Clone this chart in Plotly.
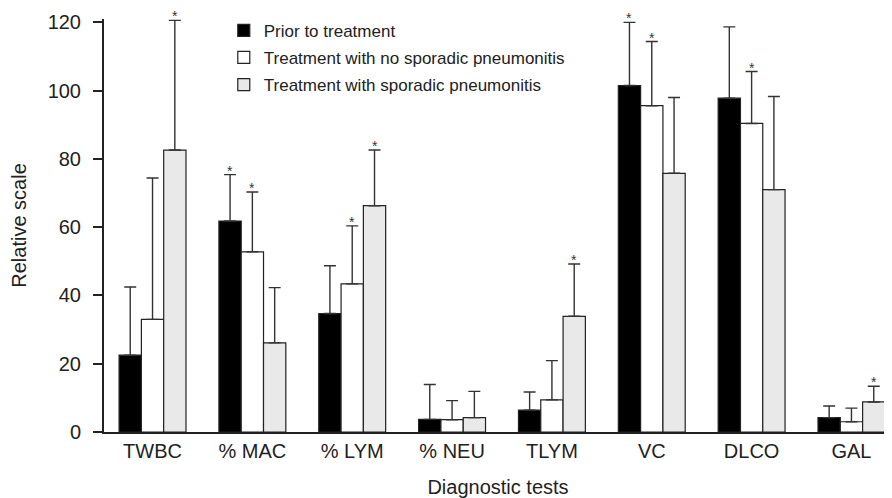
import plotly.graph_objects as go

categories = ["TWBC", "% MAC", "% LYM", "% NEU", "TLYM", "VC", "DLCO", "GAL"]
series_names = ["Prior to treatment",
                "Treatment with no sporadic pneumonitis",
                "Treatment with sporadic pneumonitis"]

prior_vals = [22.5, 61.8, 34.7, 3.7, 6.4, 101.5, 97.8, 4.2]
prior_err = [20.0, 13.6, 14.0, 10.2, 5.3, 18.5, 20.9, 3.4]
prior_sig = [False, True, False, False, False, True, False, False]

nosp_vals = [33.0, 52.8, 43.4, 3.6, 9.4, 95.6, 90.4, 3.0]
nosp_err = [41.4, 17.5, 17.0, 5.6, 11.5, 18.8, 15.2, 4.0]
nosp_sig = [False, True, True, False, False, True, True, False]

sp_vals = [82.6, 26.1, 66.3, 4.2, 33.9, 75.8, 71.0, 8.8]
sp_err = [38.0, 16.2, 16.3, 7.7, 15.3, 22.2, 27.3, 4.6]
sp_sig = [True, False, True, False, True, False, False, True]

fills = ["#000000", "#ffffff", "#e9e9e9"]
FONT = "Liberation Sans, Arial, sans-serif"
TXT = "#222222"

bargap = 0.33
fig = go.Figure()
all_vals = [prior_vals, nosp_vals, sp_vals]
all_err = [prior_err, nosp_err, sp_err]
all_sig = [prior_sig, nosp_sig, sp_sig]
xs = list(range(len(categories)))
for j in range(3):
    fig.add_trace(go.Bar(
        x=xs, y=all_vals[j], name=series_names[j], legendgroup=f"g{j}",
        marker=dict(color=fills[j], line=dict(color="#222222", width=1.2)),
        error_y=dict(type="data", array=all_err[j], arrayminus=[0]*len(xs),
                     symmetric=False, color="#333333", thickness=1.4, width=6),
    ))

w = (1 - bargap) / 3
for j in range(3):
    for i in xs:
        if all_sig[j][i]:
            fig.add_annotation(x=i + (j - 1) * w, y=all_vals[j][i] + all_err[j][i],
                               text="*", showarrow=False, yanchor="bottom",
                               yshift=-6, font=dict(size=14, color="#333333", family=FONT))

# The page body has an 8px margin; the figure is sized so the plot lands in the
# same window position as the reference.
fig.update_layout(
    template="none",
    width=884, height=490,
    margin=dict(l=96, r=0, t=11, b=66, autoexpand=False),
    plot_bgcolor="white", paper_bgcolor="white",
    barmode="group", bargap=bargap, bargroupgap=0,
    font=dict(family=FONT, color=TXT, size=20),
    showlegend=True,
    legend=dict(x=0.152, y=1.015, xanchor="left", yanchor="top",
                font=dict(size=17, color=TXT, family=FONT),
                tracegroupgap=2, bgcolor="rgba(0,0,0,0)"),
    xaxis=dict(range=[-0.486, 7.406], tickmode="array", tickvals=xs, ticktext=categories,
               showline=True, linecolor="#222222", linewidth=2, ticks="",
               showgrid=False, zeroline=False, tickfont=dict(size=20), automargin=False,
               title=dict(text="Diagnostic tests", font=dict(size=20), standoff=19)),
    yaxis=dict(range=[0, 121], tickvals=[0, 20, 40, 60, 80, 100, 120],
               showline=True, linecolor="#222222", linewidth=2,
               ticks="outside", ticklen=9, tickwidth=2, tickcolor="#222222",
               showgrid=False, zeroline=False, tickfont=dict(size=20),
               ticklabelstandoff=8, automargin=False,
               title=dict(text="Relative scale", font=dict(size=20), standoff=18)),
)

fig.write_html("out.html")
